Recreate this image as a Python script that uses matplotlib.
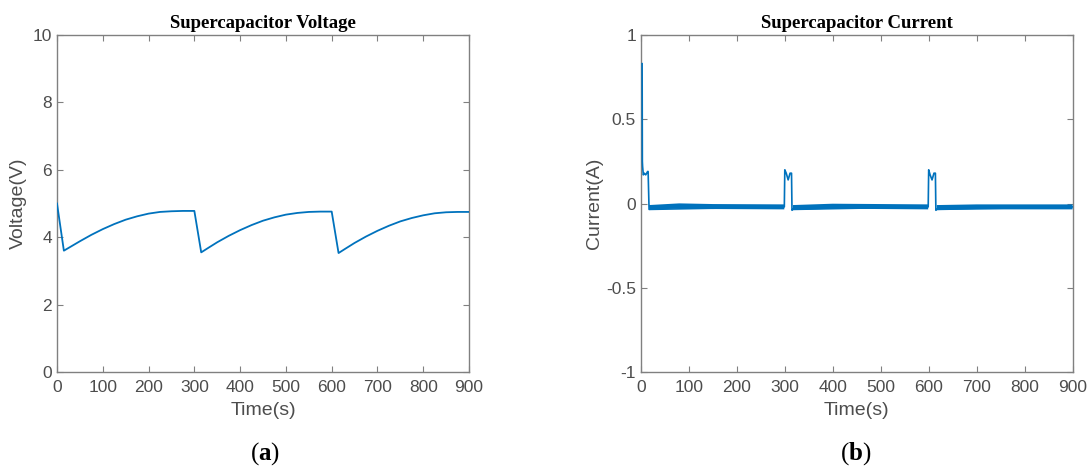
import matplotlib
matplotlib.use("Agg")
import matplotlib.pyplot as plt

plt.rcParams["font.family"] = ["Liberation Sans", "DejaVu Sans"]
plt.rcParams["axes.unicode_minus"] = False
plt.rcParams["mathtext.fontset"] = "custom"
plt.rcParams["mathtext.rm"] = "Liberation Serif"
plt.rcParams["mathtext.bf"] = "Liberation Serif:bold"

# supercapacitor voltage over three 300 s cycles
v_time = [0, 15, 30, 50, 75, 100, 125, 150, 175, 200, 225, 250, 275, 300,
          315, 330, 350, 375, 400, 425, 450, 475, 500, 525, 550, 575, 600,
          615, 630, 650, 675, 700, 725, 750, 775, 800, 825, 850, 875, 900]
v_volts = [5.0, 3.6, 3.72, 3.88, 4.07, 4.24, 4.39, 4.52, 4.62, 4.7, 4.75, 4.77, 4.78, 4.78,
           3.55, 3.68, 3.85, 4.04, 4.21, 4.36, 4.49, 4.59, 4.67, 4.72, 4.75, 4.76, 4.76,
           3.53, 3.66, 3.83, 4.02, 4.19, 4.34, 4.47, 4.57, 4.65, 4.71, 4.74, 4.75, 4.75]

# supercapacitor current: pulses at the start of each cycle
i_time = [2.5, 3, 3.5, 5, 7, 10, 14, 15, 17,
          299, 300, 303, 307, 311, 314, 315, 317,
          599, 600, 603, 607, 611, 614, 615, 617, 900]
i_amps = [0.83, 0.25, 0.22, 0.17, 0.18, 0.17, 0.19, 0.19, -0.035,
          -0.02, 0.2, 0.18, 0.14, 0.18, 0.18, -0.04, -0.035,
          -0.02, 0.2, 0.17, 0.14, 0.18, 0.18, -0.04, -0.035, -0.02]

# flat (noisy) stretches of the current trace
band_segments = [
    ([17, 80, 150, 299], [-0.024, -0.014, -0.018, -0.02]),
    ([317, 400, 500, 599], [-0.024, -0.016, -0.018, -0.02]),
    ([617, 700, 800, 900], [-0.024, -0.02, -0.02, -0.02]),
]

line_color = "#0072BD"
grey = "#4d4d4d"

fig = plt.figure(figsize=(10.9, 4.7), dpi=100)
ax1 = fig.add_axes([0.0523, 0.2085, 0.378, 0.717])
ax2 = fig.add_axes([0.588, 0.2085, 0.396, 0.717])


def style(ax):
    for s in ax.spines.values():
        s.set_color("#808080")
        s.set_linewidth(1.0)
    ax.tick_params(direction="in", top=True, right=True, length=4,
                   colors="#808080", labelcolor=grey, labelsize=12.5)
    ax.tick_params(axis="x", pad=6)


ax1.plot(v_time, v_volts, color=line_color, lw=1.3, zorder=3)
ax1.set_xlim(0, 900)
ax1.set_ylim(0, 10)
ax1.set_xticks(range(0, 901, 100))
ax1.set_yticks(range(0, 11, 2))
ax1.set_xlabel("Time(s)", fontsize=14, color=grey, labelpad=5)
ax1.set_ylabel("Voltage(V)", fontsize=14, color=grey, labelpad=4)
ax1.set_title("Supercapacitor Voltage", family="Liberation Serif",
              fontweight="bold", fontsize=13.5, pad=5)
style(ax1)

ax2.plot(i_time, i_amps, color=line_color, lw=1.2, zorder=3)
for bt, bv in band_segments:
    ax2.plot(bt, bv, color=line_color, lw=3.6, solid_capstyle="butt", zorder=3)
ax2.set_xlim(0, 900)
ax2.set_ylim(-1, 1)
ax2.set_xticks(range(0, 901, 100))
ax2.set_yticks([-1, -0.5, 0, 0.5, 1])
ax2.set_yticklabels(["-1", "-0.5", "0", "0.5", "1"])
ax2.set_xlabel("Time(s)", fontsize=14, color=grey, labelpad=5)
ax2.set_ylabel("Current(A)", fontsize=14, color=grey, labelpad=2)
ax2.set_title("Supercapacitor Current", family="Liberation Serif",
              fontweight="bold", fontsize=13.5, pad=5)
style(ax2)

fig.text(0.243, 0.022, r"($\mathbf{a}$)", ha="center", fontsize=18,
         family="Liberation Serif")
fig.text(0.785, 0.022, r"($\mathbf{b}$)", ha="center", fontsize=18,
         family="Liberation Serif")

fig.savefig("out.png", dpi=100)
